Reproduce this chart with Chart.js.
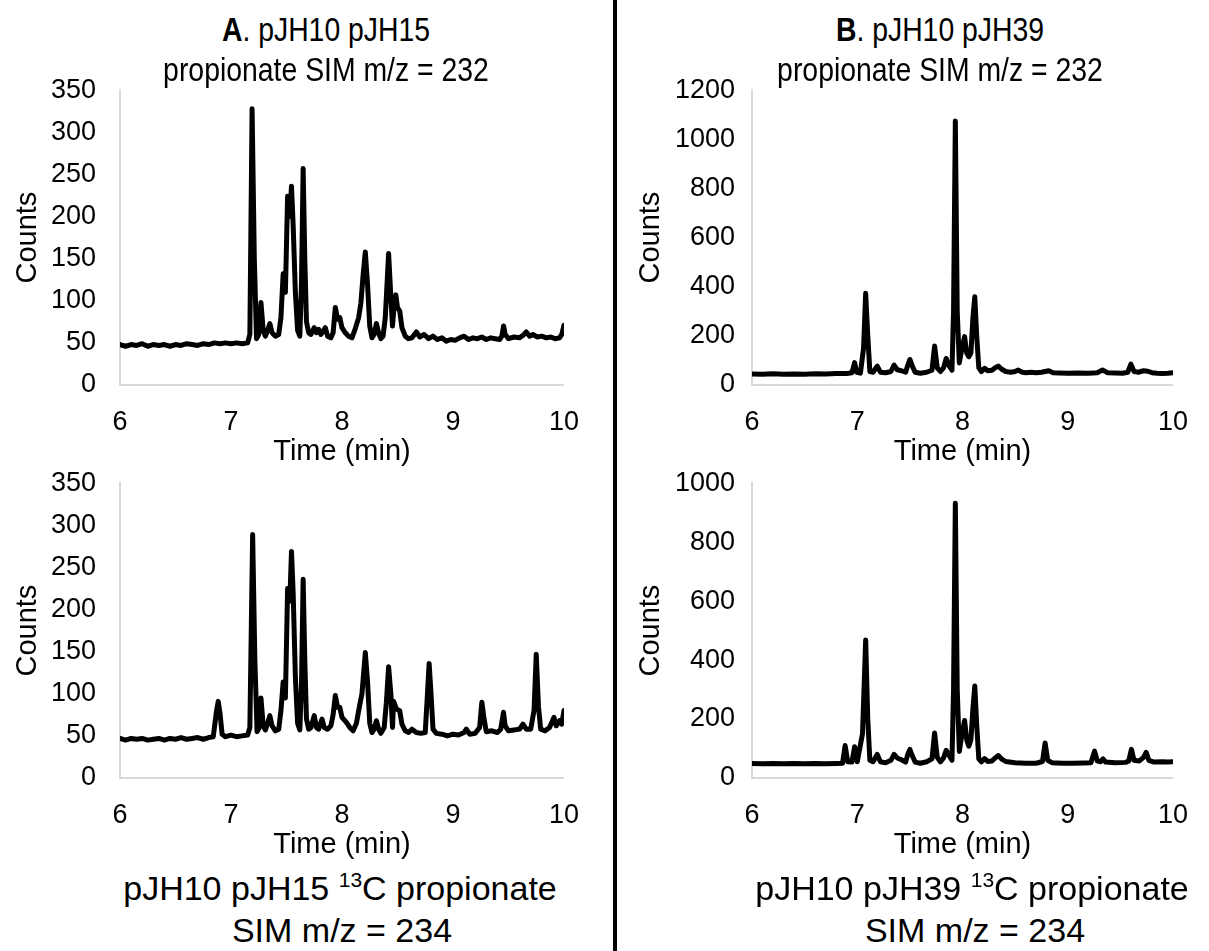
<!DOCTYPE html>
<html>
<head>
<meta charset="utf-8">
<script src="https://cdn.jsdelivr.net/npm/chart.js@4.4.0/dist/chart.umd.min.js"></script>
<style>
body{margin:0;background:#fff;font-family:"Liberation Sans",Arial,sans-serif;color:#000;}
#page{position:relative;width:1209px;height:951px;overflow:hidden;background:#fff;}
canvas{position:absolute;}
.ttl{position:absolute;font-size:33px;line-height:30px;white-space:nowrap;transform:translateX(-50%) scaleX(0.86);z-index:2;}
.cap{font-size:34px;line-height:36px;transform:translateX(-50%);}
.cap .sup{font-size:21px;position:relative;top:-13px;}
#divider{position:absolute;left:613px;top:0;width:4px;height:951px;background:#000;}
</style>
</head>
<body>
<div id="page">
  <div class="ttl" style="left:326px;top:15px"><b>A</b>. pJH10 pJH15</div>
  <div class="ttl" style="left:326px;top:55px">propionate SIM m/z = 232</div>
  <div class="ttl" style="left:940px;top:15px"><b>B</b>. pJH10 pJH39</div>
  <div class="ttl" style="left:940px;top:55px">propionate SIM m/z = 232</div>
  <div class="ttl cap" style="left:340px;top:870px">pJH10 pJH15 <span class="sup">13</span>C propionate</div>
  <div class="ttl cap" style="left:342px;top:912px">SIM m/z = 234</div>
  <div class="ttl cap" style="left:972px;top:870px">pJH10 pJH39 <span class="sup">13</span>C propionate</div>
  <div class="ttl cap" style="left:975px;top:912px">SIM m/z = 234</div>
  <div id="divider"></div>
  <canvas id="a1" width="600" height="420" style="left:0;top:50px"></canvas>
  <canvas id="a2" width="600" height="420" style="left:0;top:443px"></canvas>
  <canvas id="b1" width="584" height="413" style="left:625px;top:57px"></canvas>
  <canvas id="b2" width="584" height="413" style="left:625px;top:450px"></canvas>
</div>
<script>
// A top: pJH10 pJH15 propionate, m/z 232
const timeA1=[6.00,6.05,6.10,6.15,6.20,6.25,6.30,6.35,6.40,6.45,6.50,6.55,6.60,6.65,6.70,6.75,6.80,6.85,6.90,6.95,7.00,7.05,7.10,7.15,
  7.17,7.19,7.21,7.23,7.25,7.27,7.29,7.31,7.33,7.35,7.37,7.40,7.43,7.45,7.47,7.49,7.51,7.53,7.545,7.56,7.58,7.60,7.62,7.635,7.65,7.665,7.68,
  7.70,7.72,7.75,7.77,7.79,7.81,7.83,7.85,7.87,7.90,7.92,7.94,7.96,7.98,8.00,8.03,8.06,8.09,8.12,8.15,8.17,8.19,8.21,8.23,8.25,8.27,8.29,
  8.31,8.33,8.35,8.37,8.39,8.42,8.44,8.455,8.47,8.485,8.50,8.52,8.54,8.57,8.60,8.63,8.67,8.70,8.74,8.78,8.82,8.86,8.90,8.94,8.98,9.02,
  9.06,9.10,9.14,9.18,9.22,9.26,9.30,9.34,9.38,9.42,9.44,9.456,9.47,9.50,9.55,9.60,9.64,9.66,9.69,9.72,9.76,9.80,9.84,9.88,9.92,9.96,9.98,10.00];
const countsA1=[48,46,48,47,49,46,48,47,48,46,48,47,49,48,47,49,48,50,49,50,49,50,49,50,
  60,328,150,55,60,98,65,58,65,73,62,58,60,80,132,110,224,200,236,190,110,65,58,120,257,150,75,
  62,60,68,62,66,60,64,68,58,56,62,92,78,80,68,62,58,56,67,80,97,130,158,120,70,56,60,
  73,62,55,58,80,156,105,70,95,107,92,88,68,58,55,56,63,57,60,55,58,54,56,52,54,53,
  56,58,54,56,55,57,54,56,55,54,58,70,60,55,57,56,60,63,58,60,57,58,56,57,55,56,60,71];

// A bottom: pJH10 pJH15 13C propionate, m/z 234
const timeA2=[6.00,6.05,6.10,6.15,6.20,6.25,6.30,6.35,6.40,6.45,6.50,6.55,6.60,6.65,6.70,6.75,6.80,6.84,6.87,6.885,6.90,6.92,6.95,
  7.00,7.05,7.10,7.15,7.17,7.195,7.215,7.235,7.255,7.27,7.29,7.31,7.33,7.35,7.37,7.40,7.43,7.45,7.47,7.49,7.51,7.53,7.545,7.56,7.58,
  7.60,7.62,7.635,7.65,7.665,7.68,7.70,7.72,7.75,7.77,7.79,7.82,7.84,7.87,7.90,7.92,7.94,7.96,7.98,8.00,8.04,8.07,8.10,8.13,8.16,8.18,
  8.21,8.23,8.25,8.27,8.29,8.31,8.33,8.35,8.38,8.40,8.42,8.44,8.455,8.465,8.49,8.52,8.54,8.57,8.60,8.63,8.67,8.71,8.75,8.77,8.785,8.80,
  8.82,8.85,8.90,8.95,9.00,9.05,9.10,9.12,9.15,9.20,9.24,9.26,9.28,9.30,9.35,9.40,9.43,9.455,9.47,9.50,9.55,9.60,9.63,9.66,9.70,9.73,
  9.75,9.77,9.79,9.83,9.87,9.91,9.93,9.96,9.98,10.00];
const countsA2=[47,45,47,46,47,45,46,47,45,47,46,48,46,47,48,46,48,49,80,91,78,52,49,
  51,49,50,51,60,289,140,55,60,95,62,57,65,74,62,56,58,80,114,95,225,210,269,220,120,
  65,57,110,236,140,70,58,60,74,60,58,70,60,58,62,75,98,84,84,72,66,60,56,65,87,100,
  149,115,65,54,58,68,58,53,60,90,132,100,60,91,82,80,64,56,54,58,54,53,54,100,136,105,
  58,53,52,50,52,51,54,58,52,53,60,90,70,55,56,54,58,78,62,56,57,58,64,58,58,80,
  147,85,58,56,60,72,62,68,64,80];

// B top: pJH10 pJH39 propionate, m/z 232
const timeB1=[6.00,6.10,6.20,6.30,6.40,6.50,6.60,6.70,6.80,6.90,6.95,6.975,6.995,7.03,7.06,7.08,7.10,7.12,7.15,7.19,7.22,7.27,
  7.32,7.35,7.38,7.42,7.46,7.48,7.50,7.52,7.55,7.60,7.66,7.71,7.735,7.76,7.79,7.82,7.845,7.87,7.90,7.915,7.932,7.95,7.97,7.995,
  8.02,8.04,8.06,8.08,8.10,8.117,8.135,8.155,8.18,8.21,8.24,8.28,8.31,8.34,8.37,8.41,8.46,8.50,8.53,8.56,8.60,8.65,8.70,8.75,
  8.82,8.86,8.92,9.00,9.10,9.20,9.28,9.33,9.38,9.45,9.52,9.57,9.60,9.63,9.67,9.72,9.76,9.80,9.85,9.90,9.95,10.00];
const countsB1=[45,44,46,44,45,44,46,45,47,47,50,91,52,48,150,373,200,55,52,77,52,50,
  55,81,62,58,52,80,104,80,52,48,52,60,159,70,55,70,108,80,60,300,1075,300,90,150,
  197,130,115,130,280,359,200,70,55,68,58,60,70,77,65,55,52,55,61,53,50,52,50,52,
  58,50,49,48,49,48,50,61,50,49,48,52,85,55,52,58,56,50,48,47,48,50];

// B bottom: pJH10 pJH39 13C propionate, m/z 234
const timeB2=[6.00,6.10,6.20,6.30,6.40,6.50,6.60,6.70,6.80,6.86,6.885,6.91,6.95,6.975,7.00,7.05,7.08,7.10,7.12,7.15,7.19,7.22,
  7.27,7.32,7.35,7.38,7.42,7.46,7.48,7.50,7.52,7.55,7.60,7.66,7.71,7.735,7.76,7.79,7.82,7.845,7.87,7.90,7.915,7.932,7.95,7.97,7.995,
  8.02,8.04,8.06,8.08,8.10,8.117,8.135,8.155,8.18,8.21,8.24,8.28,8.31,8.34,8.37,8.41,8.50,8.60,8.70,8.76,8.785,8.81,8.85,8.95,
  9.05,9.15,9.22,9.255,9.28,9.31,9.335,9.36,9.45,9.55,9.58,9.605,9.63,9.68,9.72,9.745,9.77,9.82,9.90,9.95,10.00];
const countsB2=[49,48,49,48,49,48,49,48,49,50,110,55,54,106,55,150,468,200,60,55,80,55,
  52,60,80,68,62,54,80,97,78,54,50,55,65,153,70,55,68,94,78,60,300,932,300,90,150,
  195,130,108,130,240,312,180,65,55,66,56,58,68,76,65,56,52,50,50,56,119,60,52,50,
  50,51,52,91,58,55,65,54,52,53,58,97,60,58,70,87,60,54,55,54,55];

const timeTicks=[6,7,8,9,10];
const FONT='"Liberation Sans", Arial, sans-serif';
Chart.defaults.font.family=FONT;
Chart.defaults.color='#000';

function pts(t,c){return t.map((x,i)=>({x:x,y:c[i]}));}

function makeChart(id,t,c,yMax,yStep,yWidth,yPad,titlePad,rightPad){
  new Chart(document.getElementById(id),{
    type:'line',
    data:{datasets:[{data:pts(t,c),borderColor:'#000',borderWidth:5,pointRadius:0,tension:0,
      borderJoinStyle:'round',borderCapStyle:'round',fill:false}]},
    options:{
      responsive:false,animation:false,
      layout:{padding:{top:0,right:rightPad,left:0,bottom:0}},
      plugins:{legend:{display:false},tooltip:{enabled:false}},
      scales:{
        x:{type:'linear',min:timeTicks[0],max:timeTicks[timeTicks.length-1],
          ticks:{stepSize:1,padding:21,font:{size:27},maxRotation:0},
          grid:{display:false,drawTicks:false},
          border:{display:true,color:'#d9d9d9',width:2},
          title:{display:true,text:'Time (min)',font:{size:29},padding:{top:0,bottom:1}},
          afterFit:s=>{s.height=85;}},
        y:{min:0,max:yMax,
          ticks:{stepSize:yStep,padding:yPad,font:{size:27},callback:v=>String(v)},
          grid:{display:false,drawTicks:false},
          border:{display:true,color:'#d9d9d9',width:2},
          title:{display:true,text:'Counts',font:{size:29},padding:{top:titlePad,bottom:0}},
          afterFit:s=>{s.width=yWidth;}}
      }
    }
  });
}

makeChart('a1',timeA1,countsA1,350,50,120,24,11,35);
makeChart('a2',timeA2,countsA2,350,50,120,24,11,35);
makeChart('b1',timeB1,countsB1,1200,200,127,17,9,19);
makeChart('b2',timeB2,countsB2,1000,200,127,17,9,19);
</script>
</body>
</html>
